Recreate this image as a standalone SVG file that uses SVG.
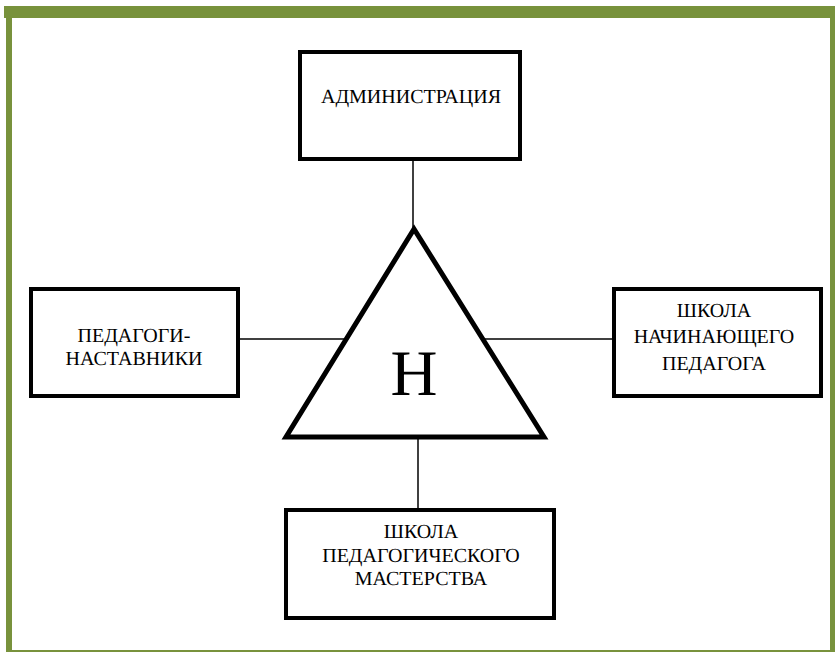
<svg xmlns="http://www.w3.org/2000/svg" width="835" height="652" viewBox="0 0 835 652">
<style>
.box{fill:#fff;stroke:#000;stroke-width:4}
.con{stroke:#000;stroke-width:1.5;fill:none}
.frame{fill:#78923c}
text{text-rendering:geometricPrecision}
</style>
<rect width="835" height="652" fill="#fff"/>
<g id="border">
<rect class="frame" x="4" y="6" width="831" height="12"/>
<rect class="frame" x="6" y="6" width="6" height="646"/>
<rect class="frame" x="830" y="6" width="5" height="646"/>
<rect class="frame" x="6" y="650" width="829" height="2"/>
</g>
<g id="connectors">
<line class="con" x1="413" y1="160" x2="413" y2="230"/>
<line class="con" x1="240" y1="339" x2="346" y2="339"/>
<line class="con" x1="483" y1="339" x2="612" y2="339"/>
<line class="con" x1="418" y1="438" x2="418" y2="508"/>
</g>
<g font-family="'Liberation Serif', 'Times New Roman', serif" font-size="20" text-anchor="middle" fill="#000">
<g id="admin">
<rect class="box" x="300" y="52" width="220" height="107"/>
<text x="411" y="103">АДМИНИСТРАЦИЯ</text>
</g>
<g id="center">
<polygon points="414,229 286,437 544,437" fill="#fff" stroke="#000" stroke-width="5" stroke-linejoin="miter"/>
<text x="414" y="395" font-size="65">Н</text>
</g>
<g id="mentors">
<rect class="box" x="31" y="289" width="207" height="107"/>
<text x="134" y="342">ПЕДАГОГИ-</text>
<text x="134" y="365">НАСТАВНИКИ</text>
</g>
<g id="school-beginner">
<rect class="box" x="614" y="289" width="207" height="107"/>
<text x="714" y="317">ШКОЛА</text>
<text x="714" y="343">НАЧИНАЮЩЕГО</text>
<text x="714" y="370">ПЕДАГОГА</text>
</g>
<g id="school-mastery">
<rect class="box" x="286" y="510" width="268" height="108"/>
<text x="421" y="538">ШКОЛА</text>
<text x="421" y="562">ПЕДАГОГИЧЕСКОГО</text>
<text x="421" y="585">МАСТЕРСТВА</text>
</g>
</g>
</svg>
